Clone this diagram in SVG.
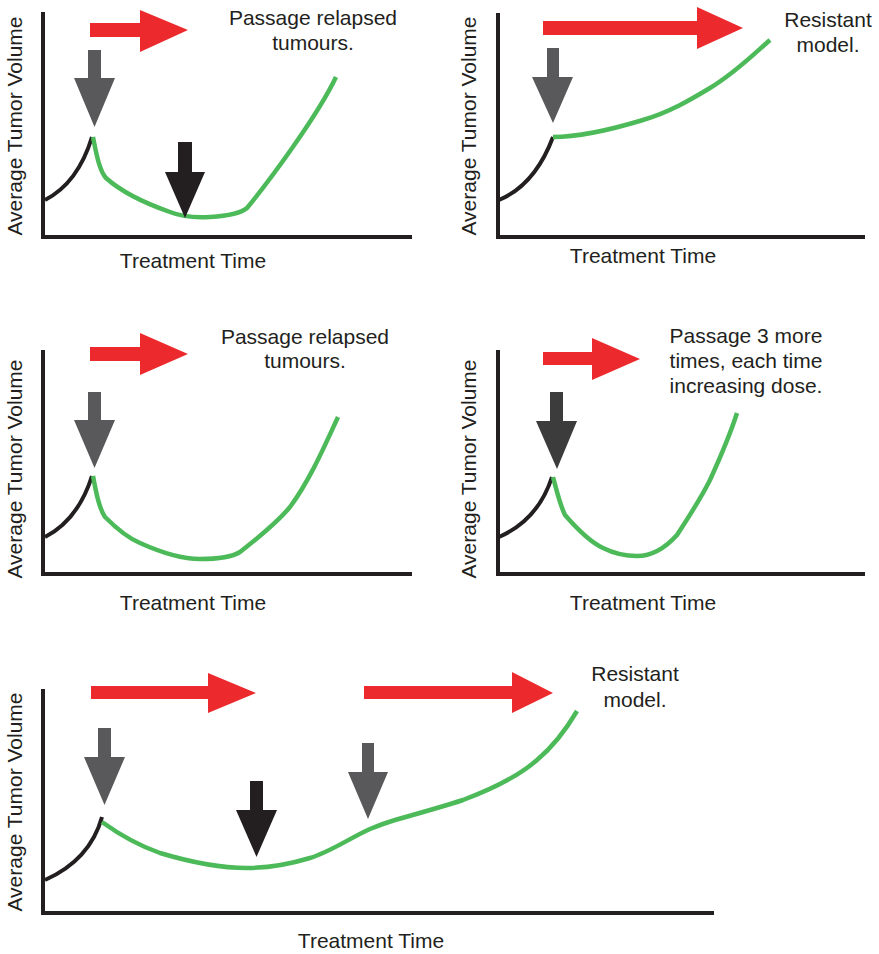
<svg xmlns="http://www.w3.org/2000/svg" width="879" height="954" viewBox="0 0 879 954">
<style>
.axis{fill:none;stroke:#231f20;stroke-width:4;stroke-linejoin:miter}
.pre{fill:none;stroke:#231f20;stroke-width:4;stroke-linecap:butt}
.tx{fill:none;stroke:#4dba5a;stroke-width:4.5;stroke-linecap:butt;stroke-linejoin:round}
.red{fill:#ec2a2e}
.gray{fill:#59595b}
.blk{fill:#231f20}
.dark{fill:#3c3c3d}
text{font-family:"Liberation Sans",Arial,Helvetica,sans-serif;font-size:21px;fill:#231f20}
.m{text-anchor:middle}
</style>
<rect width="879" height="954" fill="#ffffff"/>

<g id="panel1">
  <polyline class="axis" points="43,12 43,237 412,237"/>
  <text class="m" x="193" y="268">Treatment Time</text>
  <text class="m" transform="translate(22,126) rotate(-90)">Average Tumor Volume</text>
  <g id="p1-curves">
    <path class="pre" d="M45,200 Q78,183 92,137"/>
    <path class="tx" d="M93,137 C96,152 99,170 106,178 C125,195 150,205 170,212 C180,216 195,218 210,217 C225,216 240,214 247,208 C270,180 318,115 336,77"/>
  </g>
  <g id="p1-arrows">
    <polygon class="red" points="90,23 140,23 140,10 188,30 140,52 140,37 90,37"/>
    <polygon class="gray" points="88,50 101,50 101,78 115,78 94.5,127 74,78 88,78"/>
    <polygon class="blk" points="178,142 192,142 192,172 205,172 185,218 165,172 178,172"/>
  </g>
  <text class="m" x="313" y="25">Passage relapsed</text>
  <text class="m" x="313" y="50">tumours.</text>
</g>

<g id="panel2">
  <polyline class="axis" points="498,13 498,237 865,237"/>
  <text class="m" x="643" y="263">Treatment Time</text>
  <text class="m" transform="translate(476,126) rotate(-90)">Average Tumor Volume</text>
  <g id="p2-curves">
    <path class="pre" d="M499,200 Q535,185 553,137"/>
    <path class="tx" d="M553,137 C580,137 610,130 643,120 C670,112 690,100 710,88 C735,73 755,53 770,40"/>
  </g>
  <g id="p2-arrows">
    <polygon class="red" points="543,21 697,21 697,7 743,28 697,49 697,35 543,35"/>
    <polygon class="gray" points="547,48 559,48 559,77 573,77 553,123 532,77 547,77"/>
  </g>
  <text class="m" x="828" y="27">Resistant</text>
  <text class="m" x="828" y="52">model.</text>
</g>

<g id="panel3">
  <polyline class="axis" points="43,350 43,574 412,574"/>
  <text class="m" x="193" y="610">Treatment Time</text>
  <text class="m" transform="translate(22,469) rotate(-90)">Average Tumor Volume</text>
  <g id="p3-curves">
    <path class="pre" d="M45,537 Q78,520 92,476"/>
    <path class="tx" d="M93,476 C96,492 99,508 105,517 C118,530 128,538 140,543 C160,552 180,559 200,559 C215,559 232,557 240,552 C255,540 275,525 290,507 C310,480 325,445 338,417"/>
  </g>
  <g id="p3-arrows">
    <polygon class="red" points="90,347 140,347 140,333 188,354 140,375 140,361 90,361"/>
    <polygon class="gray" points="88,392 101,392 101,420 115,420 94.5,468 74,420 88,420"/>
  </g>
  <text class="m" x="305" y="344">Passage relapsed</text>
  <text class="m" x="305" y="368">tumours.</text>
</g>

<g id="panel4">
  <polyline class="axis" points="498,350 498,574 865,574"/>
  <text class="m" x="643" y="610">Treatment Time</text>
  <text class="m" transform="translate(476,469) rotate(-90)">Average Tumor Volume</text>
  <g id="p4-curves">
    <path class="pre" d="M499,537 Q538,520 552,477"/>
    <path class="tx" d="M553,477 C557,492 560,505 565,515 C578,530 590,542 603,548 C615,554 625,556 637,556 C655,556 668,545 677,535 C690,515 700,500 710,480 C720,458 730,435 737,413"/>
  </g>
  <g id="p4-arrows">
    <polygon class="red" points="543,352 592,352 592,338 640,359 592,380 592,365 543,365"/>
    <polygon class="dark" points="550,392 563,392 563,421 577,421 557,469 536,421 550,421"/>
  </g>
  <text class="m" x="746" y="343">Passage 3 more</text>
  <text class="m" x="746" y="368">times, each time</text>
  <text class="m" x="746" y="393">increasing dose.</text>
</g>

<g id="panel5">
  <polyline class="axis" points="43,689 43,913 714,913"/>
  <text class="m" x="371" y="948">Treatment Time</text>
  <text class="m" transform="translate(22,802) rotate(-90)">Average Tumor Volume</text>
  <g id="p5-curves">
    <path class="pre" d="M45,880 Q90,860 102,817"/>
    <path class="tx" d="M102,822 C120,835 140,846 160,853 C190,862 220,868 247,868 C270,868 290,864 310,858 C330,852 350,838 370,829 C380,825 385,823 395,820 C420,813 445,806 463,800 C495,788 520,775 537,760 C555,745 567,728 577,711"/>
  </g>
  <g id="p5-arrows">
    <polygon class="red" points="91,686 208,686 208,673 256,693 208,713 208,699 91,699"/>
    <polygon class="red" points="364,686 512,686 512,672 553,693 512,713 512,699 364,699"/>
    <polygon class="gray" points="98,728 111,728 111,757 125,757 104.5,805 84,757 98,757"/>
    <polygon class="blk" points="250,781 263,781 263,810 277,810 256.5,857 236,810 250,810"/>
    <polygon class="gray" points="362,743 374,743 374,772 388,772 368,819 348,772 362,772"/>
  </g>
  <text class="m" x="635" y="681">Resistant</text>
  <text class="m" x="635" y="707">model.</text>
</g>
</svg>
